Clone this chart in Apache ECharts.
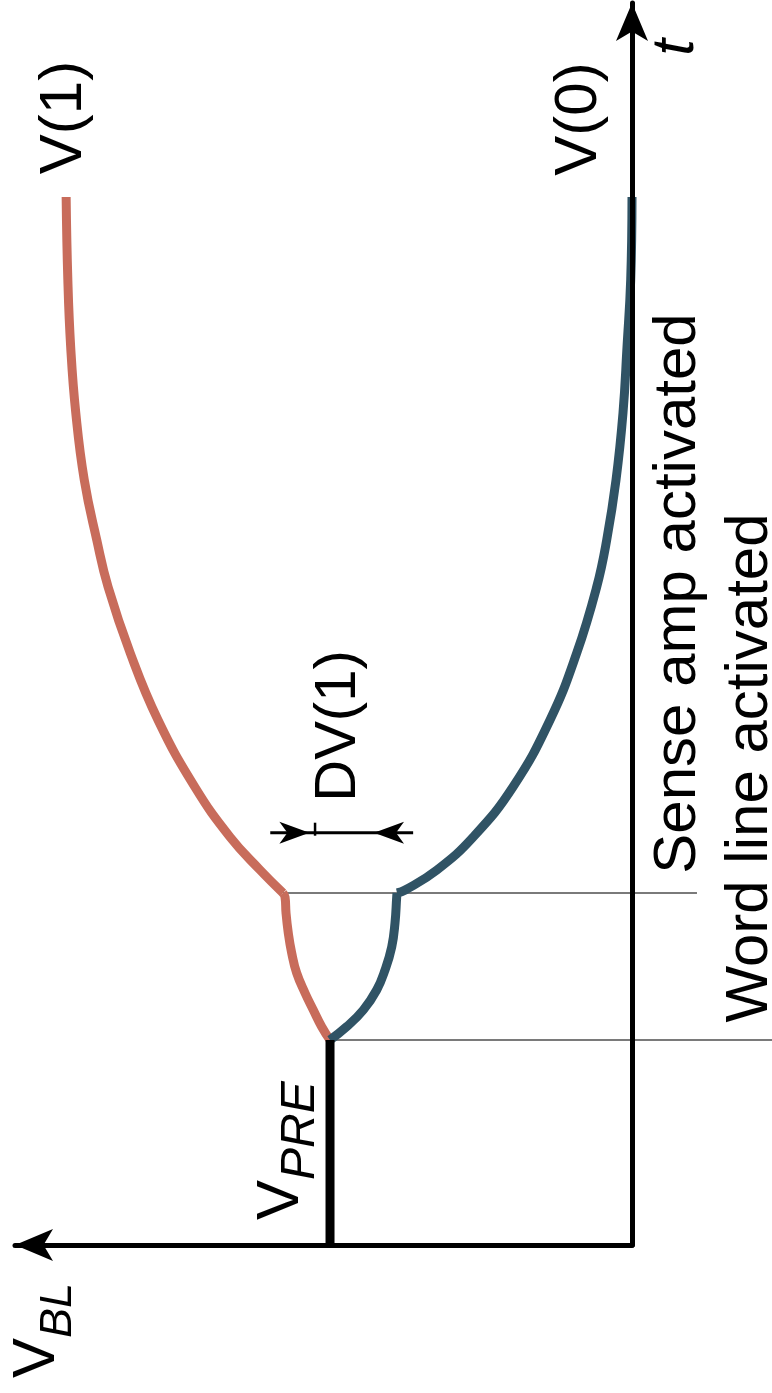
<!DOCTYPE html>
<html>
<head>
<meta charset="utf-8">
<script src="https://cdn.jsdelivr.net/npm/echarts@6/dist/echarts.min.js"></script>
<style>html,body{margin:0;padding:0;background:#fff;}#c{width:772px;height:1393px;}</style>
</head>
<body>
<div id="c"></div>
<script>
// ---- data (V in units of V(1), t in arbitrary time units) ----
const vPre = 0.5326;
const tWordLine = 2.05;
const tSenseAmp = 3.52;

const redShareV = [0.5326, 0.5473, 0.5621, 0.5767, 0.5914, 0.6002, 0.6062, 0.6102, 0.612, 0.6155];
const redShareT = [2.05, 2.183, 2.35, 2.52, 2.72, 2.92, 3.12, 3.32, 3.48, 3.52];
const redAmpV = [0.6155, 0.656, 0.709, 0.771, 0.836, 0.885, 0.924, 0.944, 0.966, 0.981, 0.990, 0.995, 0.998];
const redAmpT = [3.52, 3.75, 4.08, 4.58, 5.25, 5.92, 6.58, 7.05, 7.65, 8.32, 8.98, 9.65, 10.48];

const blueShareV = [0.5326, 0.5032, 0.4739, 0.4503, 0.4356, 0.4238, 0.418, 0.415, 0.4145];
const blueShareT = [2.05, 2.183, 2.35, 2.55, 2.75, 2.98, 3.22, 3.48, 3.52];
const blueAmpV = [0.4145, 0.400, 0.344, 0.280, 0.210, 0.1446, 0.0975, 0.0623, 0.0446, 0.0282, 0.0159, 0.0088, 0.0023, 0.0];
const blueAmpT = [3.52, 3.55, 3.75, 4.08, 4.58, 5.25, 5.92, 6.58, 7.05, 7.65, 8.32, 8.98, 9.65, 10.48];

// event marker lines: [V start, t, V end, t]
const eventLines = [
  [0.6155, tSenseAmp, -0.1146, tSenseAmp],
  [0.5326, tWordLine, -0.27, tWordLine]
];

// DV(1) marker: [bar left V, bar right V, left arrow tip V, right arrow tip V, tick V, t]
const dvMarker = [[0.638, 0.386, 0.569, 0.455, 0.559, 4.123]];

// text labels and their anchors (data units)
const labelTexts = ['V(1)', 'V(0)', 'DV(1)', 'Sense amp activated', 'Word line activated', 't', '{v|V}{s|PRE}', '{v|V}{b|BL}'];
const labelV = [1.0014, 0.0931, 0.517, -0.0815, -0.2085, -0.0776, 0.618, 1.048];
const labelT = [11.275, 11.26, 5.19, 6.515, 4.77, 11.975, 0.944, -0.855];

const zip = (a, b) => a.map((v, i) => [v, b[i]]);
const RED = '#C86C5B';
const BLUE = '#305365';
const FONT = 'Liberation Sans, Arial, sans-serif';

const curves = [
  { pts: zip(redShareV, redShareT), color: RED },
  { pts: zip(redAmpV, redAmpT), color: RED },
  { pts: zip(blueShareV, blueShareT), color: BLUE },
  { pts: zip(blueAmpV, blueAmpT), color: BLUE }
];

const labelStyles = [
  { fontSize: 60 },
  { fontSize: 60 },
  { fontSize: 58 },
  { fontSize: 60 },
  { fontSize: 60 },
  { fontSize: 60, fontStyle: 'italic' },
  { rich: { v: { fontSize: 60, fontFamily: FONT, color: '#000', lineHeight: 60, verticalAlign: 'top' },
            s: { fontSize: 48, fontFamily: FONT, color: '#000', fontStyle: 'italic', lineHeight: 48, verticalAlign: 'top', padding: [25, 0, 0, 0] } } },
  { rich: { v: { fontSize: 60, fontFamily: FONT, color: '#000', lineHeight: 60, verticalAlign: 'top' },
            b: { fontSize: 45, fontFamily: FONT, color: '#000', fontStyle: 'italic', lineHeight: 45, verticalAlign: 'top', padding: [28, 0, 0, 0] } } }
];

const chart = echarts.init(document.getElementById('c'), null, { renderer: 'canvas' });

// arrowhead polygon (tip at p, pointing in direction dir = +1 right / -1 left)
function arrowHead(p, dir) {
  const L = 30, W = 11, N = 22;
  return { type: 'polygon', shape: { points: [
    [p[0], p[1]], [p[0] - dir * L, p[1] - W], [p[0] - dir * N, p[1]], [p[0] - dir * L, p[1] + W]
  ] }, style: { fill: '#000' } };
}

chart.setOption({
  animation: false,
  backgroundColor: '#fff',
  grid: { left: 15, right: 140, top: 3, bottom: 148 },
  xAxis: {
    type: 'value', inverse: true, min: 0, max: 1.0882,
    axisLine: { show: true, onZero: false, symbol: ['arrow', 'none'], symbolSize: [24, 38],
      lineStyle: { color: '#000', width: 5 } },
    axisTick: { show: false }, axisLabel: { show: false }, splitLine: { show: false }, z: 5
  },
  yAxis: {
    type: 'value', min: 0, max: 12.42, position: 'right',
    axisLine: { show: true, onZero: false, symbol: ['none', 'arrow'], symbolSize: [24, 38],
      lineStyle: { color: '#000', width: 5 } },
    axisTick: { show: false }, axisLabel: { show: false }, splitLine: { show: false }, z: 5
  },
  series: [
    { type: 'custom', z: 1, silent: true,
      data: eventLines,
      renderItem: (params, api) => {
        const p1 = api.coord([api.value(0), api.value(1)]);
        const p2 = api.coord([api.value(2), api.value(3)]);
        return { type: 'line', shape: { x1: p1[0], y1: p1[1], x2: p2[0], y2: p2[1] },
          style: { stroke: '#7a7a7a', lineWidth: 2 } };
      } },
    { type: 'line', data: [[vPre, 0], [vPre, tWordLine]], symbol: 'none', clip: false, z: 3,
      lineStyle: { color: '#000', width: 9 } },
    { type: 'custom', z: 3, silent: true,
      data: curves.map((c, i) => [i]),
      renderItem: (params, api) => {
        const c = curves[params.dataIndex];
        return { type: 'polyline',
          shape: { points: c.pts.map(p => api.coord(p)), smooth: 0.45 },
          style: { stroke: c.color, lineWidth: 9, fill: null, lineCap: 'butt', lineJoin: 'round' } };
      } },
    { type: 'custom', z: 4, silent: true,
      data: dvMarker,
      renderItem: (params, api) => {
        const t = api.value(5);
        const a = api.coord([api.value(0), t]);
        const b = api.coord([api.value(1), t]);
        const tipL = api.coord([api.value(2), t]);
        const tipR = api.coord([api.value(3), t]);
        const tick = api.coord([api.value(4), t]);
        return { type: 'group', children: [
          { type: 'line', shape: { x1: a[0], y1: a[1], x2: b[0], y2: b[1] }, style: { stroke: '#000', lineWidth: 3 } },
          { type: 'line', shape: { x1: tick[0], y1: tick[1] - 10, x2: tick[0], y2: tick[1] + 3 }, style: { stroke: '#000', lineWidth: 2.5 } },
          arrowHead(tipL, 1),
          arrowHead(tipR, -1)
        ] };
      } },
    { type: 'scatter', clip: false, z: 6, symbolSize: 0, silent: true,
      itemStyle: { opacity: 1 },
      data: labelTexts.map((txt, i) => ({
        value: [labelV[i], labelT[i]],
        label: Object.assign({
          show: true, formatter: txt, position: 'inside', rotate: 90, opacity: 1,
          align: 'center', verticalAlign: 'middle', color: '#000', fontFamily: FONT
        }, labelStyles[i])
      })) }
  ]
});
</script>
</body>
</html>
